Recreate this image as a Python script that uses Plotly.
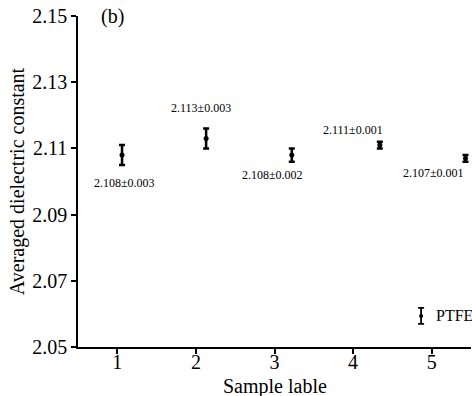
import plotly.graph_objects as go

# Data
sample_x = [1.06, 2.13, 3.22, 4.34, 5.43]
eps_mean = [2.108, 2.113, 2.108, 2.111, 2.107]
eps_err = [0.003, 0.003, 0.002, 0.001, 0.001]
labels = ["2.108±0.003", "2.113±0.003", "2.108±0.002", "2.111±0.001", "2.107±0.001"]
x_ticks = [1, 2, 3, 4, 5]
y_ticks = [2.05, 2.07, 2.09, 2.11, 2.13, 2.15]
legend_name = "PTFE"
x_title = "Sample lable"
y_title = "Averaged dielectric constant"

FONT = "Liberation Serif"

fig = go.Figure()
fig.add_trace(go.Scatter(
    x=sample_x, y=eps_mean, mode="markers",
    marker=dict(color="black", size=5),
    error_y=dict(type="data", array=eps_err, visible=True, color="black",
                 thickness=2.5, width=3),
    showlegend=False,
))

# label offsets (pixels)
xshifts = [2, -5, -19, -27, -32]
yshifts = [-28, 30, -20, 15, -15]
for x, y, t, xs, ys in zip(sample_x, eps_mean, labels, xshifts, yshifts):
    fig.add_annotation(x=x, y=y, text=t, showarrow=False, xshift=xs, yshift=ys,
                       font=dict(family=FONT, size=12, color="black"))

# legend key (PTFE) on an overlay axis in fractional coordinates
fig.add_trace(go.Scatter(
    x=[0.873], y=[0.094], mode="markers", xaxis="x2", yaxis="y2",
    marker=dict(color="black", size=4),
    error_y=dict(type="constant", value=0.024, visible=True, color="black",
                 thickness=1.8, width=3),
    showlegend=False,
))
fig.add_annotation(x=0.906, y=0.094, xref="x2", yref="y2", text=legend_name,
                   showarrow=False, xanchor="left",
                   font=dict(family=FONT, size=16, color="black"))

fig.add_annotation(x=0.087, y=1.0, xref="paper", yref="paper", text="(b)",
                   showarrow=False, xanchor="center", yanchor="middle",
                   font=dict(family=FONT, size=20, color="black"))

# x axis title
fig.add_annotation(x=0.5, y=-0.118, xref="paper", yref="paper", text=x_title,
                   showarrow=False, xanchor="center", yanchor="middle",
                   font=dict(family=FONT, size=20, color="black"))

fig.update_layout(
    width=472, height=396,
    margin=dict(l=78, r=1, t=16, b=49),
    paper_bgcolor="white", plot_bgcolor="white",
    font=dict(family=FONT, color="black"),
    xaxis=dict(range=[0.5, 5.5], tickvals=x_ticks, showline=True, linecolor="black",
               linewidth=1.5, ticks="outside", ticklen=5, tickwidth=1.5,
               tickcolor="black", showgrid=False, zeroline=False, automargin=False,
               tickfont=dict(size=20, family=FONT), ticklabelstandoff=-9),
    yaxis=dict(range=[2.05, 2.15], tickvals=y_ticks, tickformat=".2f", showline=True,
               linecolor="black", linewidth=1.5, ticks="outside", ticklen=5,
               tickwidth=1.5, tickcolor="black", showgrid=False, zeroline=False,
               automargin=False,
               tickfont=dict(size=20, family=FONT),
               title=dict(text=y_title, font=dict(size=20, family=FONT), standoff=2)),
    xaxis2=dict(range=[0, 1], overlaying="x", visible=False, fixedrange=True),
    yaxis2=dict(range=[0, 1], overlaying="y", visible=False, fixedrange=True),
)

fig.write_html("out.html", config={"displayModeBar": False},
               post_script="document.body.style.margin='0px';")
